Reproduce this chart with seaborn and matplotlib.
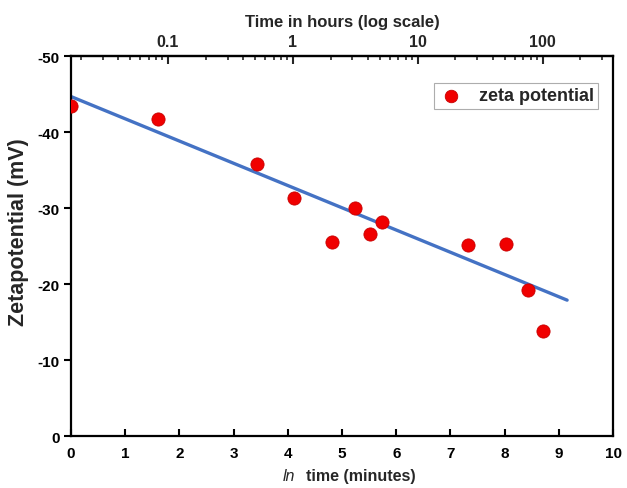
import numpy as np
import pandas as pd
import matplotlib
matplotlib.use("Agg")
import matplotlib.pyplot as plt
import seaborn as sns
from matplotlib.ticker import FixedLocator, FixedFormatter, NullFormatter

# ---- data ----
ln_time = [0.0, 1.61, 3.43, 4.11, 4.82, 5.24, 5.52, 5.74, 7.32, 8.03, 8.43, 8.71]
zeta = [-43.5, -41.7, -35.8, -31.3, -25.5, -30.0, -26.6, -28.2, -25.1, -25.3, -19.3, -13.9]

fit_x = [0.0, 9.15]
fit_y = [-44.7, -17.9]

x_ticks = [0, 1, 2, 3, 4, 5, 6, 7, 8, 9, 10]
y_ticks = [0, -10, -20, -30, -40, -50]
top_major = [0.1, 1, 10, 100]
top_major_labels = ["0.1", "1", "10", "100"]

sns.set_theme(style="white")
plt.rcParams['font.family'] = ['Liberation Sans', 'DejaVu Sans']
plt.rcParams['font.weight'] = 'bold'

fig = plt.figure(figsize=(6.27, 4.89), dpi=100)
ax = fig.add_axes([0.113, 0.106, 0.865, 0.777])

df = pd.DataFrame({"x": ln_time, "y": zeta})
line_df = pd.DataFrame({"x": fit_x, "y": fit_y})

sns.lineplot(data=line_df, x="x", y="y", ax=ax, color="#4472C4", linewidth=2.4, zorder=2)
sns.scatterplot(data=df, x="x", y="y", ax=ax, color="#f00000", s=90,
                edgecolor="#c80000", linewidth=0.6, zorder=3, label="zeta potential")
for coll in ax.collections:
    coll.set_clip_on(True)
    coll.set_clip_path(ax.patch)

ax.set_xlim(0, 10)
ax.set_ylim(0, -50)
ax.set_xticks(x_ticks)
ax.set_xticklabels([str(t) for t in x_ticks])
ax.set_yticks(y_ticks)
ax.set_yticklabels([str(t) for t in y_ticks])

for sp in ax.spines.values():
    sp.set_visible(True)
    sp.set_color("black")
    sp.set_linewidth(1.6)

ax.tick_params(axis='x', direction='in', length=5, width=1.5, labelsize=11, pad=7,
               bottom=True, colors='black')
ax.tick_params(axis='y', direction='out', length=5, width=1.5, labelsize=11, pad=3,
               left=True, colors='black')
for lab in ax.get_xticklabels() + ax.get_yticklabels():
    lab.set_fontweight('bold')

ax.set_xlabel("time (minutes)", fontsize=11.5, fontweight='bold')
ax.xaxis.set_label_coords(0.535, -0.085)
ax.text(0.403, -0.085, "ln", transform=ax.transAxes, fontsize=11.5, fontstyle='italic',
        fontweight='normal', ha='center', va='top')
ax.set_ylabel("Zetapotential (mV)", fontsize=15.5, fontweight='bold')
ax.yaxis.set_label_coords(-0.078, 0.54)

# top axis: hours (log scale)
sec = ax.secondary_xaxis('top', functions=(lambda x: np.exp(x) / 60.0,
                                           lambda h: np.log(np.clip(h, 1e-12, None) * 60.0)))
sec.xaxis.set_major_locator(FixedLocator(top_major))
sec.xaxis.set_major_formatter(FixedFormatter(top_major_labels))
minor = [k * 10.0 ** e for e in range(-2, 3) for k in range(2, 10)]
minor = [m for m in minor if np.exp(0) / 60 < m < np.exp(10) / 60]
sec.xaxis.set_minor_locator(FixedLocator(minor))
sec.xaxis.set_minor_formatter(NullFormatter())
sec.tick_params(axis='x', which='major', direction='in', length=6, width=1.5, labelsize=11.5, pad=5)
sec.tick_params(axis='x', which='minor', direction='in', length=3, width=1.2)
for lab in sec.get_xticklabels():
    lab.set_fontweight('bold')
sec.set_xlabel("Time in hours (log scale)", fontsize=12, fontweight='bold', labelpad=6)
sec.spines['top'].set_linewidth(1.6)

leg = ax.legend(loc='upper right', bbox_to_anchor=(0.972, 0.93), frameon=True, fancybox=False,
                fontsize=13, handletextpad=0.8, borderpad=0.25, markerscale=0.95,
                handlelength=1.4, borderaxespad=0.0)
leg.get_frame().set_edgecolor("#999999")
leg.get_frame().set_linewidth(0.8)
for t in leg.get_texts():
    t.set_fontweight('bold')

fig.savefig("out.png", dpi=100)
